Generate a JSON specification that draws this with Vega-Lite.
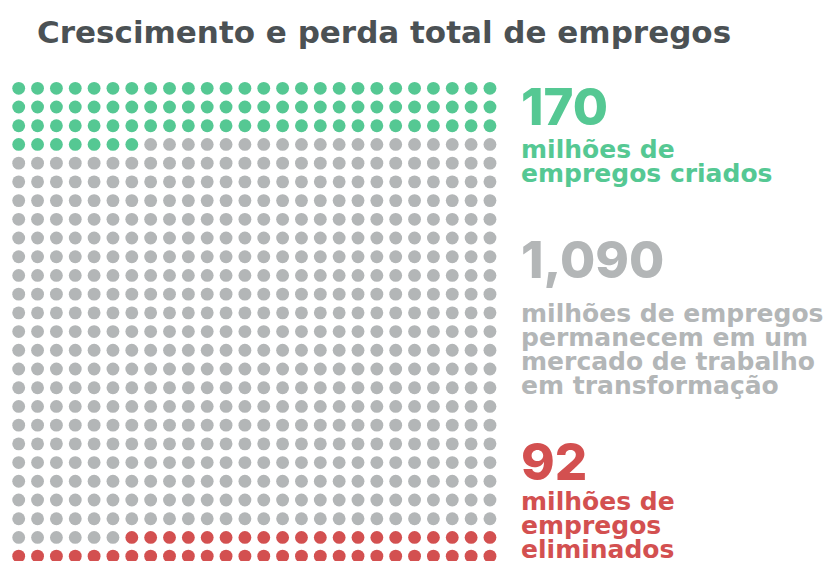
{
"$schema": "https://vega.github.io/schema/vega-lite/v6.json",
"width": 827, "height": 506,
"autosize": {"type": "none"},
"padding": {"left": 0, "top": 55, "right": 0, "bottom": 0},
"background": "white",
"title": {"text": "Crescimento e perda total de empregos", "anchor": "start", "frame": "group", "baseline": "alphabetic", "offset": -19, "dx": 37, "fontSize": 31, "font": "DejaVu Sans", "fontWeight": "bold", "color": "#4b5154"},
"config": {"view": {"stroke": null}, "font": "DejaVu Sans"},
"datasets": {
"rotulos": [
{"g":"cri","c":26.65,"rn":1.96,"rd":3.73,"numero":"170","descricao":"milhões de\nempregos criados"},
{"g":"per","c":26.65,"rn":10.14,"rd":12.49,"numero":"1,090","descricao":"milhões de empregos\npermanecem em um\nmercado de trabalho\nem transformação"},
{"g":"eli","c":26.65,"rn":20.94,"rd":22.54,"numero":"92","descricao":"milhões de\nempregos\neliminados"}
],
"pontos": [
{"c":0,"r":0,"g":"cri"},{"c":1,"r":0,"g":"cri"},{"c":2,"r":0,"g":"cri"},{"c":3,"r":0,"g":"cri"},{"c":4,"r":0,"g":"cri"},{"c":5,"r":0,"g":"cri"},{"c":6,"r":0,"g":"cri"},{"c":7,"r":0,"g":"cri"},{"c":8,"r":0,"g":"cri"},{"c":9,"r":0,"g":"cri"},{"c":10,"r":0,"g":"cri"},{"c":11,"r":0,"g":"cri"},{"c":12,"r":0,"g":"cri"},{"c":13,"r":0,"g":"cri"},{"c":14,"r":0,"g":"cri"},{"c":15,"r":0,"g":"cri"},{"c":16,"r":0,"g":"cri"},{"c":17,"r":0,"g":"cri"},{"c":18,"r":0,"g":"cri"},{"c":19,"r":0,"g":"cri"},{"c":20,"r":0,"g":"cri"},{"c":21,"r":0,"g":"cri"},{"c":22,"r":0,"g":"cri"},{"c":23,"r":0,"g":"cri"},{"c":24,"r":0,"g":"cri"},{"c":25,"r":0,"g":"cri"},
{"c":0,"r":1,"g":"cri"},{"c":1,"r":1,"g":"cri"},{"c":2,"r":1,"g":"cri"},{"c":3,"r":1,"g":"cri"},{"c":4,"r":1,"g":"cri"},{"c":5,"r":1,"g":"cri"},{"c":6,"r":1,"g":"cri"},{"c":7,"r":1,"g":"cri"},{"c":8,"r":1,"g":"cri"},{"c":9,"r":1,"g":"cri"},{"c":10,"r":1,"g":"cri"},{"c":11,"r":1,"g":"cri"},{"c":12,"r":1,"g":"cri"},{"c":13,"r":1,"g":"cri"},{"c":14,"r":1,"g":"cri"},{"c":15,"r":1,"g":"cri"},{"c":16,"r":1,"g":"cri"},{"c":17,"r":1,"g":"cri"},{"c":18,"r":1,"g":"cri"},{"c":19,"r":1,"g":"cri"},{"c":20,"r":1,"g":"cri"},{"c":21,"r":1,"g":"cri"},{"c":22,"r":1,"g":"cri"},{"c":23,"r":1,"g":"cri"},{"c":24,"r":1,"g":"cri"},{"c":25,"r":1,"g":"cri"},
{"c":0,"r":2,"g":"cri"},{"c":1,"r":2,"g":"cri"},{"c":2,"r":2,"g":"cri"},{"c":3,"r":2,"g":"cri"},{"c":4,"r":2,"g":"cri"},{"c":5,"r":2,"g":"cri"},{"c":6,"r":2,"g":"cri"},{"c":7,"r":2,"g":"cri"},{"c":8,"r":2,"g":"cri"},{"c":9,"r":2,"g":"cri"},{"c":10,"r":2,"g":"cri"},{"c":11,"r":2,"g":"cri"},{"c":12,"r":2,"g":"cri"},{"c":13,"r":2,"g":"cri"},{"c":14,"r":2,"g":"cri"},{"c":15,"r":2,"g":"cri"},{"c":16,"r":2,"g":"cri"},{"c":17,"r":2,"g":"cri"},{"c":18,"r":2,"g":"cri"},{"c":19,"r":2,"g":"cri"},{"c":20,"r":2,"g":"cri"},{"c":21,"r":2,"g":"cri"},{"c":22,"r":2,"g":"cri"},{"c":23,"r":2,"g":"cri"},{"c":24,"r":2,"g":"cri"},{"c":25,"r":2,"g":"cri"},
{"c":0,"r":3,"g":"cri"},{"c":1,"r":3,"g":"cri"},{"c":2,"r":3,"g":"cri"},{"c":3,"r":3,"g":"cri"},{"c":4,"r":3,"g":"cri"},{"c":5,"r":3,"g":"cri"},{"c":6,"r":3,"g":"cri"},{"c":7,"r":3,"g":"per"},{"c":8,"r":3,"g":"per"},{"c":9,"r":3,"g":"per"},{"c":10,"r":3,"g":"per"},{"c":11,"r":3,"g":"per"},{"c":12,"r":3,"g":"per"},{"c":13,"r":3,"g":"per"},{"c":14,"r":3,"g":"per"},{"c":15,"r":3,"g":"per"},{"c":16,"r":3,"g":"per"},{"c":17,"r":3,"g":"per"},{"c":18,"r":3,"g":"per"},{"c":19,"r":3,"g":"per"},{"c":20,"r":3,"g":"per"},{"c":21,"r":3,"g":"per"},{"c":22,"r":3,"g":"per"},{"c":23,"r":3,"g":"per"},{"c":24,"r":3,"g":"per"},{"c":25,"r":3,"g":"per"},
{"c":0,"r":4,"g":"per"},{"c":1,"r":4,"g":"per"},{"c":2,"r":4,"g":"per"},{"c":3,"r":4,"g":"per"},{"c":4,"r":4,"g":"per"},{"c":5,"r":4,"g":"per"},{"c":6,"r":4,"g":"per"},{"c":7,"r":4,"g":"per"},{"c":8,"r":4,"g":"per"},{"c":9,"r":4,"g":"per"},{"c":10,"r":4,"g":"per"},{"c":11,"r":4,"g":"per"},{"c":12,"r":4,"g":"per"},{"c":13,"r":4,"g":"per"},{"c":14,"r":4,"g":"per"},{"c":15,"r":4,"g":"per"},{"c":16,"r":4,"g":"per"},{"c":17,"r":4,"g":"per"},{"c":18,"r":4,"g":"per"},{"c":19,"r":4,"g":"per"},{"c":20,"r":4,"g":"per"},{"c":21,"r":4,"g":"per"},{"c":22,"r":4,"g":"per"},{"c":23,"r":4,"g":"per"},{"c":24,"r":4,"g":"per"},{"c":25,"r":4,"g":"per"},
{"c":0,"r":5,"g":"per"},{"c":1,"r":5,"g":"per"},{"c":2,"r":5,"g":"per"},{"c":3,"r":5,"g":"per"},{"c":4,"r":5,"g":"per"},{"c":5,"r":5,"g":"per"},{"c":6,"r":5,"g":"per"},{"c":7,"r":5,"g":"per"},{"c":8,"r":5,"g":"per"},{"c":9,"r":5,"g":"per"},{"c":10,"r":5,"g":"per"},{"c":11,"r":5,"g":"per"},{"c":12,"r":5,"g":"per"},{"c":13,"r":5,"g":"per"},{"c":14,"r":5,"g":"per"},{"c":15,"r":5,"g":"per"},{"c":16,"r":5,"g":"per"},{"c":17,"r":5,"g":"per"},{"c":18,"r":5,"g":"per"},{"c":19,"r":5,"g":"per"},{"c":20,"r":5,"g":"per"},{"c":21,"r":5,"g":"per"},{"c":22,"r":5,"g":"per"},{"c":23,"r":5,"g":"per"},{"c":24,"r":5,"g":"per"},{"c":25,"r":5,"g":"per"},
{"c":0,"r":6,"g":"per"},{"c":1,"r":6,"g":"per"},{"c":2,"r":6,"g":"per"},{"c":3,"r":6,"g":"per"},{"c":4,"r":6,"g":"per"},{"c":5,"r":6,"g":"per"},{"c":6,"r":6,"g":"per"},{"c":7,"r":6,"g":"per"},{"c":8,"r":6,"g":"per"},{"c":9,"r":6,"g":"per"},{"c":10,"r":6,"g":"per"},{"c":11,"r":6,"g":"per"},{"c":12,"r":6,"g":"per"},{"c":13,"r":6,"g":"per"},{"c":14,"r":6,"g":"per"},{"c":15,"r":6,"g":"per"},{"c":16,"r":6,"g":"per"},{"c":17,"r":6,"g":"per"},{"c":18,"r":6,"g":"per"},{"c":19,"r":6,"g":"per"},{"c":20,"r":6,"g":"per"},{"c":21,"r":6,"g":"per"},{"c":22,"r":6,"g":"per"},{"c":23,"r":6,"g":"per"},{"c":24,"r":6,"g":"per"},{"c":25,"r":6,"g":"per"},
{"c":0,"r":7,"g":"per"},{"c":1,"r":7,"g":"per"},{"c":2,"r":7,"g":"per"},{"c":3,"r":7,"g":"per"},{"c":4,"r":7,"g":"per"},{"c":5,"r":7,"g":"per"},{"c":6,"r":7,"g":"per"},{"c":7,"r":7,"g":"per"},{"c":8,"r":7,"g":"per"},{"c":9,"r":7,"g":"per"},{"c":10,"r":7,"g":"per"},{"c":11,"r":7,"g":"per"},{"c":12,"r":7,"g":"per"},{"c":13,"r":7,"g":"per"},{"c":14,"r":7,"g":"per"},{"c":15,"r":7,"g":"per"},{"c":16,"r":7,"g":"per"},{"c":17,"r":7,"g":"per"},{"c":18,"r":7,"g":"per"},{"c":19,"r":7,"g":"per"},{"c":20,"r":7,"g":"per"},{"c":21,"r":7,"g":"per"},{"c":22,"r":7,"g":"per"},{"c":23,"r":7,"g":"per"},{"c":24,"r":7,"g":"per"},{"c":25,"r":7,"g":"per"},
{"c":0,"r":8,"g":"per"},{"c":1,"r":8,"g":"per"},{"c":2,"r":8,"g":"per"},{"c":3,"r":8,"g":"per"},{"c":4,"r":8,"g":"per"},{"c":5,"r":8,"g":"per"},{"c":6,"r":8,"g":"per"},{"c":7,"r":8,"g":"per"},{"c":8,"r":8,"g":"per"},{"c":9,"r":8,"g":"per"},{"c":10,"r":8,"g":"per"},{"c":11,"r":8,"g":"per"},{"c":12,"r":8,"g":"per"},{"c":13,"r":8,"g":"per"},{"c":14,"r":8,"g":"per"},{"c":15,"r":8,"g":"per"},{"c":16,"r":8,"g":"per"},{"c":17,"r":8,"g":"per"},{"c":18,"r":8,"g":"per"},{"c":19,"r":8,"g":"per"},{"c":20,"r":8,"g":"per"},{"c":21,"r":8,"g":"per"},{"c":22,"r":8,"g":"per"},{"c":23,"r":8,"g":"per"},{"c":24,"r":8,"g":"per"},{"c":25,"r":8,"g":"per"},
{"c":0,"r":9,"g":"per"},{"c":1,"r":9,"g":"per"},{"c":2,"r":9,"g":"per"},{"c":3,"r":9,"g":"per"},{"c":4,"r":9,"g":"per"},{"c":5,"r":9,"g":"per"},{"c":6,"r":9,"g":"per"},{"c":7,"r":9,"g":"per"},{"c":8,"r":9,"g":"per"},{"c":9,"r":9,"g":"per"},{"c":10,"r":9,"g":"per"},{"c":11,"r":9,"g":"per"},{"c":12,"r":9,"g":"per"},{"c":13,"r":9,"g":"per"},{"c":14,"r":9,"g":"per"},{"c":15,"r":9,"g":"per"},{"c":16,"r":9,"g":"per"},{"c":17,"r":9,"g":"per"},{"c":18,"r":9,"g":"per"},{"c":19,"r":9,"g":"per"},{"c":20,"r":9,"g":"per"},{"c":21,"r":9,"g":"per"},{"c":22,"r":9,"g":"per"},{"c":23,"r":9,"g":"per"},{"c":24,"r":9,"g":"per"},{"c":25,"r":9,"g":"per"},
{"c":0,"r":10,"g":"per"},{"c":1,"r":10,"g":"per"},{"c":2,"r":10,"g":"per"},{"c":3,"r":10,"g":"per"},{"c":4,"r":10,"g":"per"},{"c":5,"r":10,"g":"per"},{"c":6,"r":10,"g":"per"},{"c":7,"r":10,"g":"per"},{"c":8,"r":10,"g":"per"},{"c":9,"r":10,"g":"per"},{"c":10,"r":10,"g":"per"},{"c":11,"r":10,"g":"per"},{"c":12,"r":10,"g":"per"},{"c":13,"r":10,"g":"per"},{"c":14,"r":10,"g":"per"},{"c":15,"r":10,"g":"per"},{"c":16,"r":10,"g":"per"},{"c":17,"r":10,"g":"per"},{"c":18,"r":10,"g":"per"},{"c":19,"r":10,"g":"per"},{"c":20,"r":10,"g":"per"},{"c":21,"r":10,"g":"per"},{"c":22,"r":10,"g":"per"},{"c":23,"r":10,"g":"per"},{"c":24,"r":10,"g":"per"},{"c":25,"r":10,"g":"per"},
{"c":0,"r":11,"g":"per"},{"c":1,"r":11,"g":"per"},{"c":2,"r":11,"g":"per"},{"c":3,"r":11,"g":"per"},{"c":4,"r":11,"g":"per"},{"c":5,"r":11,"g":"per"},{"c":6,"r":11,"g":"per"},{"c":7,"r":11,"g":"per"},{"c":8,"r":11,"g":"per"},{"c":9,"r":11,"g":"per"},{"c":10,"r":11,"g":"per"},{"c":11,"r":11,"g":"per"},{"c":12,"r":11,"g":"per"},{"c":13,"r":11,"g":"per"},{"c":14,"r":11,"g":"per"},{"c":15,"r":11,"g":"per"},{"c":16,"r":11,"g":"per"},{"c":17,"r":11,"g":"per"},{"c":18,"r":11,"g":"per"},{"c":19,"r":11,"g":"per"},{"c":20,"r":11,"g":"per"},{"c":21,"r":11,"g":"per"},{"c":22,"r":11,"g":"per"},{"c":23,"r":11,"g":"per"},{"c":24,"r":11,"g":"per"},{"c":25,"r":11,"g":"per"},
{"c":0,"r":12,"g":"per"},{"c":1,"r":12,"g":"per"},{"c":2,"r":12,"g":"per"},{"c":3,"r":12,"g":"per"},{"c":4,"r":12,"g":"per"},{"c":5,"r":12,"g":"per"},{"c":6,"r":12,"g":"per"},{"c":7,"r":12,"g":"per"},{"c":8,"r":12,"g":"per"},{"c":9,"r":12,"g":"per"},{"c":10,"r":12,"g":"per"},{"c":11,"r":12,"g":"per"},{"c":12,"r":12,"g":"per"},{"c":13,"r":12,"g":"per"},{"c":14,"r":12,"g":"per"},{"c":15,"r":12,"g":"per"},{"c":16,"r":12,"g":"per"},{"c":17,"r":12,"g":"per"},{"c":18,"r":12,"g":"per"},{"c":19,"r":12,"g":"per"},{"c":20,"r":12,"g":"per"},{"c":21,"r":12,"g":"per"},{"c":22,"r":12,"g":"per"},{"c":23,"r":12,"g":"per"},{"c":24,"r":12,"g":"per"},{"c":25,"r":12,"g":"per"},
{"c":0,"r":13,"g":"per"},{"c":1,"r":13,"g":"per"},{"c":2,"r":13,"g":"per"},{"c":3,"r":13,"g":"per"},{"c":4,"r":13,"g":"per"},{"c":5,"r":13,"g":"per"},{"c":6,"r":13,"g":"per"},{"c":7,"r":13,"g":"per"},{"c":8,"r":13,"g":"per"},{"c":9,"r":13,"g":"per"},{"c":10,"r":13,"g":"per"},{"c":11,"r":13,"g":"per"},{"c":12,"r":13,"g":"per"},{"c":13,"r":13,"g":"per"},{"c":14,"r":13,"g":"per"},{"c":15,"r":13,"g":"per"},{"c":16,"r":13,"g":"per"},{"c":17,"r":13,"g":"per"},{"c":18,"r":13,"g":"per"},{"c":19,"r":13,"g":"per"},{"c":20,"r":13,"g":"per"},{"c":21,"r":13,"g":"per"},{"c":22,"r":13,"g":"per"},{"c":23,"r":13,"g":"per"},{"c":24,"r":13,"g":"per"},{"c":25,"r":13,"g":"per"},
{"c":0,"r":14,"g":"per"},{"c":1,"r":14,"g":"per"},{"c":2,"r":14,"g":"per"},{"c":3,"r":14,"g":"per"},{"c":4,"r":14,"g":"per"},{"c":5,"r":14,"g":"per"},{"c":6,"r":14,"g":"per"},{"c":7,"r":14,"g":"per"},{"c":8,"r":14,"g":"per"},{"c":9,"r":14,"g":"per"},{"c":10,"r":14,"g":"per"},{"c":11,"r":14,"g":"per"},{"c":12,"r":14,"g":"per"},{"c":13,"r":14,"g":"per"},{"c":14,"r":14,"g":"per"},{"c":15,"r":14,"g":"per"},{"c":16,"r":14,"g":"per"},{"c":17,"r":14,"g":"per"},{"c":18,"r":14,"g":"per"},{"c":19,"r":14,"g":"per"},{"c":20,"r":14,"g":"per"},{"c":21,"r":14,"g":"per"},{"c":22,"r":14,"g":"per"},{"c":23,"r":14,"g":"per"},{"c":24,"r":14,"g":"per"},{"c":25,"r":14,"g":"per"},
{"c":0,"r":15,"g":"per"},{"c":1,"r":15,"g":"per"},{"c":2,"r":15,"g":"per"},{"c":3,"r":15,"g":"per"},{"c":4,"r":15,"g":"per"},{"c":5,"r":15,"g":"per"},{"c":6,"r":15,"g":"per"},{"c":7,"r":15,"g":"per"},{"c":8,"r":15,"g":"per"},{"c":9,"r":15,"g":"per"},{"c":10,"r":15,"g":"per"},{"c":11,"r":15,"g":"per"},{"c":12,"r":15,"g":"per"},{"c":13,"r":15,"g":"per"},{"c":14,"r":15,"g":"per"},{"c":15,"r":15,"g":"per"},{"c":16,"r":15,"g":"per"},{"c":17,"r":15,"g":"per"},{"c":18,"r":15,"g":"per"},{"c":19,"r":15,"g":"per"},{"c":20,"r":15,"g":"per"},{"c":21,"r":15,"g":"per"},{"c":22,"r":15,"g":"per"},{"c":23,"r":15,"g":"per"},{"c":24,"r":15,"g":"per"},{"c":25,"r":15,"g":"per"},
{"c":0,"r":16,"g":"per"},{"c":1,"r":16,"g":"per"},{"c":2,"r":16,"g":"per"},{"c":3,"r":16,"g":"per"},{"c":4,"r":16,"g":"per"},{"c":5,"r":16,"g":"per"},{"c":6,"r":16,"g":"per"},{"c":7,"r":16,"g":"per"},{"c":8,"r":16,"g":"per"},{"c":9,"r":16,"g":"per"},{"c":10,"r":16,"g":"per"},{"c":11,"r":16,"g":"per"},{"c":12,"r":16,"g":"per"},{"c":13,"r":16,"g":"per"},{"c":14,"r":16,"g":"per"},{"c":15,"r":16,"g":"per"},{"c":16,"r":16,"g":"per"},{"c":17,"r":16,"g":"per"},{"c":18,"r":16,"g":"per"},{"c":19,"r":16,"g":"per"},{"c":20,"r":16,"g":"per"},{"c":21,"r":16,"g":"per"},{"c":22,"r":16,"g":"per"},{"c":23,"r":16,"g":"per"},{"c":24,"r":16,"g":"per"},{"c":25,"r":16,"g":"per"},
{"c":0,"r":17,"g":"per"},{"c":1,"r":17,"g":"per"},{"c":2,"r":17,"g":"per"},{"c":3,"r":17,"g":"per"},{"c":4,"r":17,"g":"per"},{"c":5,"r":17,"g":"per"},{"c":6,"r":17,"g":"per"},{"c":7,"r":17,"g":"per"},{"c":8,"r":17,"g":"per"},{"c":9,"r":17,"g":"per"},{"c":10,"r":17,"g":"per"},{"c":11,"r":17,"g":"per"},{"c":12,"r":17,"g":"per"},{"c":13,"r":17,"g":"per"},{"c":14,"r":17,"g":"per"},{"c":15,"r":17,"g":"per"},{"c":16,"r":17,"g":"per"},{"c":17,"r":17,"g":"per"},{"c":18,"r":17,"g":"per"},{"c":19,"r":17,"g":"per"},{"c":20,"r":17,"g":"per"},{"c":21,"r":17,"g":"per"},{"c":22,"r":17,"g":"per"},{"c":23,"r":17,"g":"per"},{"c":24,"r":17,"g":"per"},{"c":25,"r":17,"g":"per"},
{"c":0,"r":18,"g":"per"},{"c":1,"r":18,"g":"per"},{"c":2,"r":18,"g":"per"},{"c":3,"r":18,"g":"per"},{"c":4,"r":18,"g":"per"},{"c":5,"r":18,"g":"per"},{"c":6,"r":18,"g":"per"},{"c":7,"r":18,"g":"per"},{"c":8,"r":18,"g":"per"},{"c":9,"r":18,"g":"per"},{"c":10,"r":18,"g":"per"},{"c":11,"r":18,"g":"per"},{"c":12,"r":18,"g":"per"},{"c":13,"r":18,"g":"per"},{"c":14,"r":18,"g":"per"},{"c":15,"r":18,"g":"per"},{"c":16,"r":18,"g":"per"},{"c":17,"r":18,"g":"per"},{"c":18,"r":18,"g":"per"},{"c":19,"r":18,"g":"per"},{"c":20,"r":18,"g":"per"},{"c":21,"r":18,"g":"per"},{"c":22,"r":18,"g":"per"},{"c":23,"r":18,"g":"per"},{"c":24,"r":18,"g":"per"},{"c":25,"r":18,"g":"per"},
{"c":0,"r":19,"g":"per"},{"c":1,"r":19,"g":"per"},{"c":2,"r":19,"g":"per"},{"c":3,"r":19,"g":"per"},{"c":4,"r":19,"g":"per"},{"c":5,"r":19,"g":"per"},{"c":6,"r":19,"g":"per"},{"c":7,"r":19,"g":"per"},{"c":8,"r":19,"g":"per"},{"c":9,"r":19,"g":"per"},{"c":10,"r":19,"g":"per"},{"c":11,"r":19,"g":"per"},{"c":12,"r":19,"g":"per"},{"c":13,"r":19,"g":"per"},{"c":14,"r":19,"g":"per"},{"c":15,"r":19,"g":"per"},{"c":16,"r":19,"g":"per"},{"c":17,"r":19,"g":"per"},{"c":18,"r":19,"g":"per"},{"c":19,"r":19,"g":"per"},{"c":20,"r":19,"g":"per"},{"c":21,"r":19,"g":"per"},{"c":22,"r":19,"g":"per"},{"c":23,"r":19,"g":"per"},{"c":24,"r":19,"g":"per"},{"c":25,"r":19,"g":"per"},
{"c":0,"r":20,"g":"per"},{"c":1,"r":20,"g":"per"},{"c":2,"r":20,"g":"per"},{"c":3,"r":20,"g":"per"},{"c":4,"r":20,"g":"per"},{"c":5,"r":20,"g":"per"},{"c":6,"r":20,"g":"per"},{"c":7,"r":20,"g":"per"},{"c":8,"r":20,"g":"per"},{"c":9,"r":20,"g":"per"},{"c":10,"r":20,"g":"per"},{"c":11,"r":20,"g":"per"},{"c":12,"r":20,"g":"per"},{"c":13,"r":20,"g":"per"},{"c":14,"r":20,"g":"per"},{"c":15,"r":20,"g":"per"},{"c":16,"r":20,"g":"per"},{"c":17,"r":20,"g":"per"},{"c":18,"r":20,"g":"per"},{"c":19,"r":20,"g":"per"},{"c":20,"r":20,"g":"per"},{"c":21,"r":20,"g":"per"},{"c":22,"r":20,"g":"per"},{"c":23,"r":20,"g":"per"},{"c":24,"r":20,"g":"per"},{"c":25,"r":20,"g":"per"},
{"c":0,"r":21,"g":"per"},{"c":1,"r":21,"g":"per"},{"c":2,"r":21,"g":"per"},{"c":3,"r":21,"g":"per"},{"c":4,"r":21,"g":"per"},{"c":5,"r":21,"g":"per"},{"c":6,"r":21,"g":"per"},{"c":7,"r":21,"g":"per"},{"c":8,"r":21,"g":"per"},{"c":9,"r":21,"g":"per"},{"c":10,"r":21,"g":"per"},{"c":11,"r":21,"g":"per"},{"c":12,"r":21,"g":"per"},{"c":13,"r":21,"g":"per"},{"c":14,"r":21,"g":"per"},{"c":15,"r":21,"g":"per"},{"c":16,"r":21,"g":"per"},{"c":17,"r":21,"g":"per"},{"c":18,"r":21,"g":"per"},{"c":19,"r":21,"g":"per"},{"c":20,"r":21,"g":"per"},{"c":21,"r":21,"g":"per"},{"c":22,"r":21,"g":"per"},{"c":23,"r":21,"g":"per"},{"c":24,"r":21,"g":"per"},{"c":25,"r":21,"g":"per"},
{"c":0,"r":22,"g":"per"},{"c":1,"r":22,"g":"per"},{"c":2,"r":22,"g":"per"},{"c":3,"r":22,"g":"per"},{"c":4,"r":22,"g":"per"},{"c":5,"r":22,"g":"per"},{"c":6,"r":22,"g":"per"},{"c":7,"r":22,"g":"per"},{"c":8,"r":22,"g":"per"},{"c":9,"r":22,"g":"per"},{"c":10,"r":22,"g":"per"},{"c":11,"r":22,"g":"per"},{"c":12,"r":22,"g":"per"},{"c":13,"r":22,"g":"per"},{"c":14,"r":22,"g":"per"},{"c":15,"r":22,"g":"per"},{"c":16,"r":22,"g":"per"},{"c":17,"r":22,"g":"per"},{"c":18,"r":22,"g":"per"},{"c":19,"r":22,"g":"per"},{"c":20,"r":22,"g":"per"},{"c":21,"r":22,"g":"per"},{"c":22,"r":22,"g":"per"},{"c":23,"r":22,"g":"per"},{"c":24,"r":22,"g":"per"},{"c":25,"r":22,"g":"per"},
{"c":0,"r":23,"g":"per"},{"c":1,"r":23,"g":"per"},{"c":2,"r":23,"g":"per"},{"c":3,"r":23,"g":"per"},{"c":4,"r":23,"g":"per"},{"c":5,"r":23,"g":"per"},{"c":6,"r":23,"g":"per"},{"c":7,"r":23,"g":"per"},{"c":8,"r":23,"g":"per"},{"c":9,"r":23,"g":"per"},{"c":10,"r":23,"g":"per"},{"c":11,"r":23,"g":"per"},{"c":12,"r":23,"g":"per"},{"c":13,"r":23,"g":"per"},{"c":14,"r":23,"g":"per"},{"c":15,"r":23,"g":"per"},{"c":16,"r":23,"g":"per"},{"c":17,"r":23,"g":"per"},{"c":18,"r":23,"g":"per"},{"c":19,"r":23,"g":"per"},{"c":20,"r":23,"g":"per"},{"c":21,"r":23,"g":"per"},{"c":22,"r":23,"g":"per"},{"c":23,"r":23,"g":"per"},{"c":24,"r":23,"g":"per"},{"c":25,"r":23,"g":"per"},
{"c":0,"r":24,"g":"per"},{"c":1,"r":24,"g":"per"},{"c":2,"r":24,"g":"per"},{"c":3,"r":24,"g":"per"},{"c":4,"r":24,"g":"per"},{"c":5,"r":24,"g":"per"},{"c":6,"r":24,"g":"eli"},{"c":7,"r":24,"g":"eli"},{"c":8,"r":24,"g":"eli"},{"c":9,"r":24,"g":"eli"},{"c":10,"r":24,"g":"eli"},{"c":11,"r":24,"g":"eli"},{"c":12,"r":24,"g":"eli"},{"c":13,"r":24,"g":"eli"},{"c":14,"r":24,"g":"eli"},{"c":15,"r":24,"g":"eli"},{"c":16,"r":24,"g":"eli"},{"c":17,"r":24,"g":"eli"},{"c":18,"r":24,"g":"eli"},{"c":19,"r":24,"g":"eli"},{"c":20,"r":24,"g":"eli"},{"c":21,"r":24,"g":"eli"},{"c":22,"r":24,"g":"eli"},{"c":23,"r":24,"g":"eli"},{"c":24,"r":24,"g":"eli"},{"c":25,"r":24,"g":"eli"},
{"c":0,"r":25,"g":"eli"},{"c":1,"r":25,"g":"eli"},{"c":2,"r":25,"g":"eli"},{"c":3,"r":25,"g":"eli"},{"c":4,"r":25,"g":"eli"},{"c":5,"r":25,"g":"eli"},{"c":6,"r":25,"g":"eli"},{"c":7,"r":25,"g":"eli"},{"c":8,"r":25,"g":"eli"},{"c":9,"r":25,"g":"eli"},{"c":10,"r":25,"g":"eli"},{"c":11,"r":25,"g":"eli"},{"c":12,"r":25,"g":"eli"},{"c":13,"r":25,"g":"eli"},{"c":14,"r":25,"g":"eli"},{"c":15,"r":25,"g":"eli"},{"c":16,"r":25,"g":"eli"},{"c":17,"r":25,"g":"eli"},{"c":18,"r":25,"g":"eli"},{"c":19,"r":25,"g":"eli"},{"c":20,"r":25,"g":"eli"},{"c":21,"r":25,"g":"eli"},{"c":22,"r":25,"g":"eli"},{"c":23,"r":25,"g":"eli"},{"c":24,"r":25,"g":"eli"},{"c":25,"r":25,"g":"eli"}
]
},
"layer": [
{"data": {"name": "pontos"},
 "mark": {"type": "circle", "size": 165, "opacity": 1},
 "encoding": {
  "x": {"field": "c", "type": "quantitative", "scale": {"domain": [-0.992, 42.88], "nice": false, "zero": false}, "axis": null},
  "y": {"field": "r", "type": "quantitative", "scale": {"domain": [-1.78, 25.26], "nice": false, "zero": false, "reverse": true}, "axis": null},
  "color": {"field": "g", "type": "nominal", "scale": {"domain": ["cri", "per", "eli"], "range": ["#55c893", "#b3b6b7", "#d35050"]}, "legend": null}
 }},
{"data": {"name": "rotulos"},
 "mark": {"type": "text", "align": "left", "baseline": "alphabetic", "fontSize": 51, "fontWeight": 800, "font": "Inter"},
 "encoding": {
  "x": {"field": "c", "type": "quantitative"},
  "y": {"field": "rn", "type": "quantitative"},
  "text": {"field": "numero", "type": "nominal"},
  "color": {"field": "g", "type": "nominal"}
 }},
{"data": {"name": "rotulos"},
 "mark": {"type": "text", "align": "left", "baseline": "alphabetic", "fontSize": 25, "fontWeight": "bold", "font": "DejaVu Sans", "lineBreak": "\n", "lineHeight": 24},
 "encoding": {
  "x": {"field": "c", "type": "quantitative"},
  "y": {"field": "rd", "type": "quantitative"},
  "text": {"field": "descricao", "type": "nominal"},
  "color": {"field": "g", "type": "nominal"}
 }}
]
}
